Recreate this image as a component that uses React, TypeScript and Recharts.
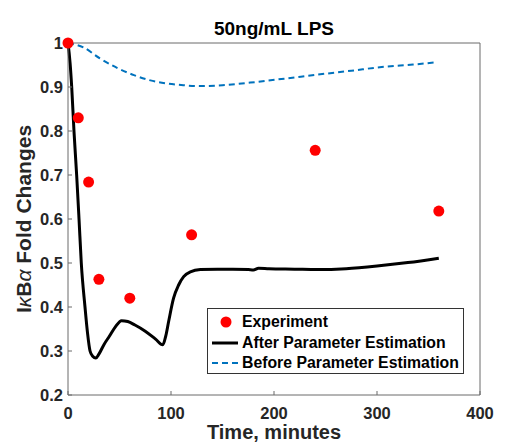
import React from "react";
import {
    ComposedChart, Line, Scatter, XAxis, YAxis, Legend, Label,
} from "recharts";

// experiment points
const expTime = [0, 10, 20, 30, 60, 120, 240, 360];
const expValue = [1.0, 0.83, 0.684, 0.463, 0.42, 0.564, 0.756, 0.618];

// after parameter estimation (model fit)
const afterTime = [0, 2, 3.6, 5.8, 8.4, 10.7, 12.9, 16.5, 19, 21.4, 24, 27, 30, 35, 40, 46, 52, 58, 65, 75, 85, 92, 95, 97.7, 102.5, 107.4, 112.3, 118.8, 128.5, 145, 160, 175, 180, 185, 195, 220, 242, 270, 300, 330, 360];
const afterValue = [1.0, 0.955, 0.9, 0.8, 0.7, 0.6, 0.5, 0.4, 0.34, 0.3, 0.288, 0.284, 0.293, 0.315, 0.333, 0.355, 0.369, 0.367, 0.359, 0.345, 0.327, 0.314, 0.335, 0.367, 0.42, 0.45, 0.469, 0.48, 0.485, 0.486, 0.486, 0.485, 0.484, 0.488, 0.487, 0.486, 0.485, 0.487, 0.493, 0.501, 0.511];

// before parameter estimation
const beforeTime = [0, 15, 31, 48, 64, 80, 96, 112, 128, 150, 177, 210, 242, 275, 307, 335, 357];
const beforeValue = [1.0, 0.99, 0.965, 0.943, 0.927, 0.915, 0.908, 0.904, 0.902, 0.904, 0.91, 0.919, 0.928, 0.937, 0.946, 0.951, 0.956];

const xTicks = [0, 100, 200, 300, 400];
const yTicks = [0.2, 0.3, 0.4, 0.5, 0.6, 0.7, 0.8, 0.9, 1];

const legendOrder = ["Experiment", "After Parameter Estimation", "Before Parameter Estimation"];

const expData = expTime.map((t, i) => ({ t, v: expValue[i] }));
const afterData = afterTime.map((t, i) => ({ t, v: afterValue[i] }));
const beforeData = beforeTime.map((t, i) => ({ t, v: beforeValue[i] }));

const FONT = "'Liberation Sans', Arial, Helvetica, sans-serif";
const AXIS = "#6a6a6a";
const TEXT = "#262626";

const tickStyle = { fill: TEXT, fontSize: 16.5, fontWeight: 700, fontFamily: FONT };

function Dot(props: any) {
    const { cx, cy } = props;
    if (cx == null || cy == null) return null;
    return <circle cx={cx} cy={cy} r={5.5} fill="#ff0000" />;
}

function LegendBox(props: any) {
    const items = [...(props.payload || [])].sort(
        (a: any, b: any) => legendOrder.indexOf(a.value) - legendOrder.indexOf(b.value)
    );
    return (
        <div style={{ width: 257, height: 66, border: "1px solid #333", background: "#fff", boxSizing: "border-box", paddingTop: 3 }}>
            {items.map((it: any) => (
                <div key={it.value} style={{ display: "flex", alignItems: "center", height: 20.5 }}>
                    <svg width={34} height={20} style={{ flex: "none" }}>
                        {it.value === "Experiment" ? (
                            <circle cx={18} cy={10} r={5.5} fill="#ff0000" />
                        ) : it.value === "After Parameter Estimation" ? (
                            <line x1={4} x2={30} y1={10} y2={10} stroke="#000" strokeWidth={3} />
                        ) : (
                            <line x1={4} x2={30} y1={10} y2={10} stroke="#0072BD" strokeWidth={2} strokeDasharray="6 4" />
                        )}
                    </svg>
                    <span style={{ fontFamily: FONT, fontWeight: 700, fontSize: 15.8, color: "#000", whiteSpace: "nowrap" }}>{it.value}</span>
                </div>
            ))}
        </div>
    );
}

export default function App() {
    return (
        <div style={{ position: "absolute", left: 0, top: 0, width: 505, height: 444, background: "#fff", overflow: "hidden" }}>
            <ComposedChart width={505} height={444} margin={{ top: 42, right: 24, bottom: 19, left: 8 }}>
                <XAxis xAxisId="b" dataKey="t" type="number" domain={[0, 400]} ticks={xTicks}
                    height={30} stroke={AXIS} tickSize={-4} tickMargin={16} tick={tickStyle}>
                    <Label content={() => (
                        <text x={274} y={439} textAnchor="middle" fontFamily={FONT} fontWeight={700} fontSize={20} fill={TEXT}>Time, minutes</text>
                    )} />
                </XAxis>
                <XAxis xAxisId="t" orientation="top" dataKey="t" type="number" domain={[0, 400]} ticks={xTicks}
                    height={1} stroke={AXIS} tickSize={-4} tickMargin={0} tickFormatter={() => ""}>
                    <Label content={() => (
                        <text x={274} y={35} textAnchor="middle" fontFamily={FONT} fontWeight={700} fontSize={19} fill="#000">50ng/mL LPS</text>
                    )} />
                </XAxis>
                <YAxis yAxisId="l" type="number" domain={[0.2, 1]} ticks={yTicks}
                    width={60} stroke={AXIS} tickSize={-4} tickMargin={9} tick={tickStyle}
                    tickFormatter={(v: number) => String(v)}>
                    <Label content={() => (
                        <text transform="translate(31,219) rotate(-90)" x={0} y={0} textAnchor="middle" fontFamily={FONT} fontWeight={700} fontSize={21} fill={TEXT}>
                            I<tspan fontStyle="italic" fontWeight={400}>κ</tspan>B<tspan fontStyle="italic" fontWeight={400}>α</tspan> Fold Changes
                        </text>
                    )} />
                </YAxis>
                <YAxis yAxisId="r" orientation="right" type="number" domain={[0.2, 1]} ticks={yTicks}
                    width={1} stroke={AXIS} tickSize={-4} tickMargin={0} tickFormatter={() => ""} />
                <Line xAxisId="b" yAxisId="l" data={beforeData} dataKey="v" name="Before Parameter Estimation"
                    type="monotone" stroke="#0072BD" strokeWidth={2} strokeDasharray="6 4" dot={false} isAnimationActive={false} />
                <Line xAxisId="b" yAxisId="l" data={afterData} dataKey="v" name="After Parameter Estimation"
                    type="monotone" stroke="#000" strokeWidth={3} dot={false} isAnimationActive={false} />
                <Scatter xAxisId="b" yAxisId="l" data={expData} dataKey="v" name="Experiment"
                    fill="#ff0000" shape={Dot} isAnimationActive={false} />
                <Legend layout="vertical" align="center" verticalAlign="middle" content={LegendBox}
                    wrapperStyle={{ position: "absolute", left: 207, top: 308, width: 257, height: 66 }} />
            </ComposedChart>
        </div>
    );
}
